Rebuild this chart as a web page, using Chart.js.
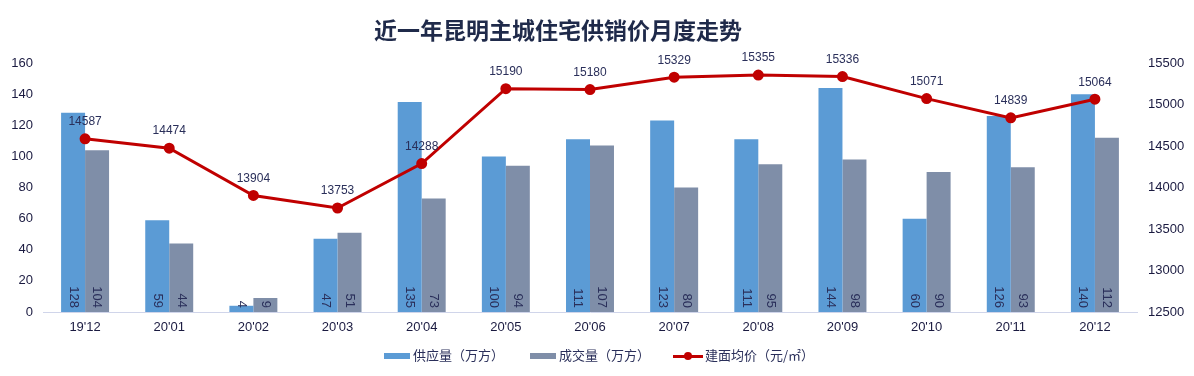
<!DOCTYPE html>
<html><head><meta charset="utf-8">
<script src="https://cdn.jsdelivr.net/npm/chart.js@4/dist/chart.umd.min.js"></script>
<style>
html,body{margin:0;padding:0;background:#fff;}
#wrap{position:relative;width:1194px;height:376px;font-family:"Liberation Sans",Arial,"Noto Sans CJK SC",sans-serif;}
#title{position:absolute;left:0;width:1116px;top:14px;text-align:center;font-size:23px;font-weight:bold;color:#1f2a4a;font-family:"Noto Sans CJK SC",sans-serif;line-height:30px;}
#legend{position:absolute;top:346px;left:384px;font-size:13px;color:#2a2f5a;font-family:"Noto Sans CJK SC",sans-serif;white-space:nowrap;}
.li{position:absolute;top:0;line-height:18px;}
.sw{display:inline-block;vertical-align:middle;}
</style></head>
<body><div id="wrap">
<canvas id="c" width="1194" height="376"></canvas>
<div id="title">近一年昆明主城住宅供销价月度走势</div>
<div id="legend">
 <div class="li" style="left:0"><span class="sw" style="width:26px;height:6px;background:#5b9bd5;margin-right:3px;"></span>供应量（万方）</div>
 <div class="li" style="left:146px"><span class="sw" style="width:26px;height:6px;background:#7f8ea8;margin-right:3px;"></span>成交量（万方）</div>
 <div class="li" style="left:289px"><span class="sw" style="position:relative;width:30px;height:3px;background:#c00000;margin-right:2px;"><span style="position:absolute;left:11px;top:-3px;width:8px;height:8px;border-radius:50%;background:#c00000;"></span></span>建面均价（元/㎡）</div>
</div>
</div>
<script>
const categories = ["19'12","20'01","20'02","20'03","20'04","20'05","20'06","20'07","20'08","20'09","20'10","20'11","20'12"];
const supply = [128,59,4,47,135,100,111,123,111,144,60,126,140];
const deal = [104,44,9,51,73,94,107,80,95,98,90,93,112];
const price = [14587,14474,13904,13753,14288,15190,15180,15329,15355,15336,15071,14839,15064];
const leftTicks = [0,20,40,60,80,100,120,140,160];
const rightTicks = [12500,13000,13500,14000,14500,15000,15500];

const FONT = '"Liberation Sans", Arial, sans-serif';
const labelPlugin = {
  id:'labels',
  afterDatasetsDraw(chart){
    const ctx = chart.ctx;
    ctx.save();
    ctx.fillStyle = '#2a2f5a';
    ctx.font = '13px ' + FONT;
    [1,2].forEach(di=>{
      const meta = chart.getDatasetMeta(di);
      meta.data.forEach((el,i)=>{
        const v = chart.data.datasets[di].data[i];
        ctx.save();
        ctx.translate(el.x, el.base - 4);
        ctx.rotate(Math.PI/2);
        ctx.textAlign='right';
        ctx.textBaseline='middle';
        ctx.fillText(String(v),0,0);
        ctx.restore();
      });
    });
    const meta = chart.getDatasetMeta(0);
    ctx.font = '12px ' + FONT;
    ctx.textAlign='center';
    ctx.textBaseline='middle';
    meta.data.forEach((el,i)=>{
      ctx.fillText(String(chart.data.datasets[0].data[i]), el.x, el.y-17);
    });
    ctx.restore();
  }
};

new Chart(document.getElementById('c'),{
  data:{
    labels:categories,
    datasets:[
      {type:'line',label:'建面均价（元/㎡）',data:price,yAxisID:'y2',borderColor:'#c00000',backgroundColor:'#c00000',borderWidth:3,pointRadius:4,pointHoverRadius:4,tension:0,order:0},
      {type:'bar',label:'供应量（万方）',data:supply,yAxisID:'y',backgroundColor:'#5b9bd5',categoryPercentage:0.57,barPercentage:1,order:1},
      {type:'bar',label:'成交量（万方）',data:deal,yAxisID:'y',backgroundColor:'#7f8ea8',categoryPercentage:0.57,barPercentage:1,order:1}
    ]
  },
  options:{
    responsive:false,animation:false,
    layout:{padding:{top:63,bottom:34,left:0,right:0}},
    plugins:{legend:{display:false},title:{display:false},tooltip:{enabled:false}},
    scales:{
      x:{offset:true,grid:{display:false,drawTicks:false},border:{color:'#d0d5ea',width:1},
         ticks:{color:'#1a1a40',font:{size:13,family:FONT},padding:8},
         afterFit(s){s.height=30;}},
      y:{position:'left',min:0,max:160,grid:{display:false,drawTicks:false},border:{display:false},
         afterBuildTicks(s){s.ticks=leftTicks.map(v=>({value:v}));},
         ticks:{color:'#1a1a40',font:{size:13,family:FONT},padding:10,callback:v=>String(v)},
         afterFit(s){s.width=43;}},
      y2:{position:'right',min:12500,max:15500,grid:{display:false,drawTicks:false},border:{display:false},
         afterBuildTicks(s){s.ticks=rightTicks.map(v=>({value:v}));},
         ticks:{color:'#1a1a40',font:{size:13,family:FONT},padding:11,callback:v=>String(v)},
         afterFit(s){s.width=57;}}
    }
  },
  plugins:[labelPlugin]
});
</script>
</body></html>
